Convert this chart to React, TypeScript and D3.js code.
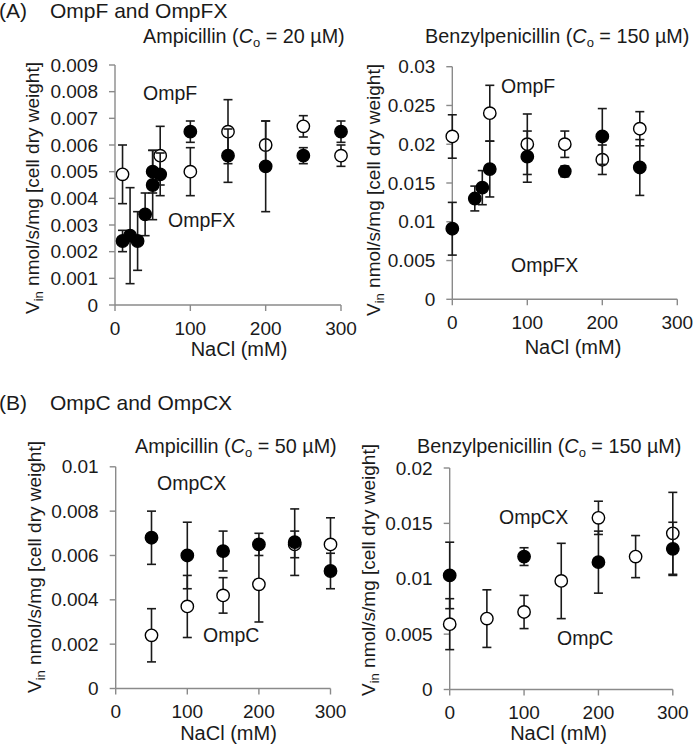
import React from "react";
import * as d3 from "d3";

// ---------- data ----------
// Panel A, Ampicillin (Co = 20 µM)
const ompfAmpX = [10, 60, 100, 150, 200, 250, 300];
const ompfAmpY = [0.0049, 0.0056, 0.005, 0.0065, 0.006, 0.0067, 0.0056];
const ompfAmpErr = [0.0011, 0.0011, 0.0009, 0.0012, 0.0009, 0.0004, 0.0004];
const ompfxAmpX = [10, 20, 30, 40, 50, 50, 60, 100, 150, 200, 250, 300];
const ompfxAmpY = [0.0024, 0.0026, 0.0024, 0.0034, 0.0045, 0.005, 0.0049, 0.0065, 0.0056, 0.0052, 0.0056, 0.0065];
const ompfxAmpErr = [0.0004, 0.0018, 0.0011, 0.0008, 0.0013, 0.0008, 0.0008, 0.0004, 0.001, 0.0017, 0.0003, 0.0004];

// Panel A, Benzylpenicillin (Co = 150 µM)
const ompfPenX = [0, 50, 100, 150, 200, 250];
const ompfPenY = [0.021, 0.024, 0.02, 0.02, 0.018, 0.022];
const ompfPenErr = [0.0028, 0.0036, 0.0039, 0.0017, 0.0019, 0.0022];
const ompfxPenX = [0, 30, 40, 50, 100, 150, 200, 250];
const ompfxPenY = [0.0091, 0.013, 0.0144, 0.0168, 0.0184, 0.0165, 0.021, 0.017];
const ompfxPenErr = [0.0034, 0.0016, 0.0022, 0.0036, 0.0033, 0.0007, 0.0036, 0.0036];

// Panel B, Ampicillin (Co = 50 µM)
const ompcAmpX = [50, 100, 150, 200, 250, 300];
const ompcAmpY = [0.0024, 0.0037, 0.0042, 0.0047, 0.0065, 0.0065];
const ompcAmpErr = [0.0012, 0.0014, 0.0008, 0.0017, 0.0006, 0.0012];
const ompcxAmpX = [50, 100, 150, 200, 250, 300];
const ompcxAmpY = [0.0068, 0.006, 0.0062, 0.0065, 0.0066, 0.0053];
const ompcxAmpErr = [0.0012, 0.0015, 0.0009, 0.0005, 0.0015, 0.0008];

// Panel B, Benzylpenicillin (Co = 150 µM)
const ompcPenX = [0, 50, 100, 150, 200, 250, 300];
const ompcPenY = [0.0059, 0.0064, 0.007, 0.0098, 0.0155, 0.012, 0.0141];
const ompcPenErr = [0.0023, 0.0026, 0.0015, 0.0034, 0.0015, 0.0019, 0.0037];
const ompcxPenX = [0, 100, 200, 300];
const ompcxPenY = [0.0103, 0.012, 0.0115, 0.0127];
const ompcxPenErr = [0.003, 0.0008, 0.0028, 0.0024];

// ticks
const xTicks = [0, 100, 200, 300];
const yTicksA1 = [0, 0.001, 0.002, 0.003, 0.004, 0.005, 0.006, 0.007, 0.008, 0.009];
const yTicksA2 = [0, 0.005, 0.01, 0.015, 0.02, 0.025, 0.03];
const yTicksB1 = [0, 0.002, 0.004, 0.006, 0.008, 0.01];
const yTicksB2 = [0, 0.005, 0.01, 0.015, 0.02];

const FONT = "'Liberation Sans', Arial, Helvetica, sans-serif";
const fmt = d3.format(".3~f");
const AXIS = "#8a8a8a";

type Series = { x: number[]; y: number[]; err: number[]; filled: boolean };

type PanelProps = {
  xr: [number, number];
  yr: [number, number]; // [pixel at 0, pixel at max]
  yMax: number;
  yTicks: number[];
  series: Series[];
  drug: string;
  conc: string;
  titleX: number;
  titleY: number;
  labels: { text: string; x: number; y: number }[];
  xLabel: { x: number; y: number };
  yLabel: { x: number; y: number };
  tickOffset: number;
};

function Panel(p: PanelProps) {
  const x = d3.scaleLinear().domain([0, 300]).range(p.xr);
  const y = d3.scaleLinear().domain([0, p.yMax]).range(p.yr);
  const y0 = y(0);
  const x0 = x(0);
  return (
    <g fontFamily={FONT} fill="#1a1a1a">
      {/* axes */}
      <line x1={x0} x2={x0} y1={y0} y2={y(p.yMax)} stroke={AXIS} strokeWidth={1.4} />
      <line x1={x0} x2={x(300)} y1={y0} y2={y0} stroke={AXIS} strokeWidth={1.4} />
      {p.yTicks.map((t) => (
        <g key={"y" + t}>
          <line x1={x0 - 6} x2={x0} y1={y(t)} y2={y(t)} stroke={AXIS} strokeWidth={1.4} />
          <text x={x0 - 17} y={y(t)} dy="0.35em" textAnchor="end" fontSize={19}>
            {fmt(t)}
          </text>
        </g>
      ))}
      {xTicks.map((t) => (
        <g key={"x" + t}>
          <line x1={x(t)} x2={x(t)} y1={y0} y2={y0 + 6} stroke={AXIS} strokeWidth={1.4} />
          <text x={x(t)} y={y0 + p.tickOffset} textAnchor="middle" fontSize={19}>
            {t}
          </text>
        </g>
      ))}
      {/* axis titles */}
      <text x={p.xLabel.x} y={p.xLabel.y} textAnchor="middle" fontSize={20}>
        NaCl (mM)
      </text>
      <text
        transform={`translate(${p.yLabel.x},${p.yLabel.y}) rotate(-90)`}
        textAnchor="middle"
        fontSize={19}
      >
        V
        <tspan fontSize={13} dy={4}>
          in
        </tspan>
        <tspan dy={-4}> nmol/s/mg [cell dry weight]</tspan>
      </text>
      {/* panel title */}
      <text x={p.titleX} y={p.titleY} fontSize={19.8}>
        {p.drug} (
        <tspan fontStyle="italic">C</tspan>
        <tspan fontSize={13} dy={4}>
          o
        </tspan>
        <tspan dy={-4}> = {p.conc} µM)</tspan>
      </text>
      {/* series */}
      {p.series.map((s, si) => (
        <g key={si}>
          {s.x.map((xv, i) => {
            const cx = x(xv);
            const top = y(s.y[i] + s.err[i]);
            const bot = y(s.y[i] - s.err[i]);
            return (
              <g key={i} stroke="#1a1a1a" strokeWidth={1.6}>
                <line x1={cx} x2={cx} y1={top} y2={bot} />
                <line x1={cx - 4.5} x2={cx + 4.5} y1={top} y2={top} />
                <line x1={cx - 4.5} x2={cx + 4.5} y1={bot} y2={bot} />
              </g>
            );
          })}
          {s.x.map((xv, i) => (
            <circle
              key={"c" + i}
              cx={x(xv)}
              cy={y(s.y[i])}
              r={6.2}
              fill={s.filled ? "#000" : "#fff"}
              stroke="#000"
              strokeWidth={1.4}
            />
          ))}
        </g>
      ))}
      {p.labels.map((l) => (
        <text key={l.text} x={l.x} y={l.y} fontSize={19.5}>
          {l.text}
        </text>
      ))}
    </g>
  );
}

export default function App() {
  return (
    <svg
      width={693}
      height={748}
      viewBox="0 0 693 748"
      style={{ position: "absolute", left: 0, top: 0, background: "#fff" }}
    >
      <rect width={693} height={748} fill="#fff" />
      <g fontFamily={FONT} fill="#1a1a1a" fontSize={21}>
        <text x={-1} y={18}>(A)</text>
        <text x={50} y={18}>OmpF and OmpFX</text>
        <text x={-1} y={410}>(B)</text>
        <text x={50} y={410}>OmpC and OmpCX</text>
      </g>
      <Panel
        xr={[115, 341]}
        yr={[305, 65]}
        yMax={0.009}
        yTicks={yTicksA1}
        series={[
          { x: ompfAmpX, y: ompfAmpY, err: ompfAmpErr, filled: false },
          { x: ompfxAmpX, y: ompfxAmpY, err: ompfxAmpErr, filled: true },
        ]}
        drug="Ampicillin"
        conc="20"
        titleX={143}
        titleY={43}
        labels={[
          { text: "OmpF", x: 143, y: 100 },
          { text: "OmpFX", x: 168, y: 227 },
        ]}
        xLabel={{ x: 239, y: 356 }}
        yLabel={{ x: 39, y: 188 }}
        tickOffset={30}
      />
      <Panel
        xr={[452.3, 677.3]}
        yr={[299.3, 66.7]}
        yMax={0.03}
        yTicks={yTicksA2}
        series={[
          { x: ompfPenX, y: ompfPenY, err: ompfPenErr, filled: false },
          { x: ompfxPenX, y: ompfxPenY, err: ompfxPenErr, filled: true },
        ]}
        drug="Benzylpenicillin"
        conc="150"
        titleX={425}
        titleY={43}
        labels={[
          { text: "OmpF", x: 501, y: 93 },
          { text: "OmpFX", x: 511, y: 272 },
        ]}
        xLabel={{ x: 573, y: 354 }}
        yLabel={{ x: 380, y: 190 }}
        tickOffset={30}
      />
      <Panel
        xr={[115.7, 330.5]}
        yr={[688.5, 466.8]}
        yMax={0.01}
        yTicks={yTicksB1}
        series={[
          { x: ompcAmpX, y: ompcAmpY, err: ompcAmpErr, filled: false },
          { x: ompcxAmpX, y: ompcxAmpY, err: ompcxAmpErr, filled: true },
        ]}
        drug="Ampicillin"
        conc="50"
        titleX={135}
        titleY={453}
        labels={[
          { text: "OmpCX", x: 157, y: 490 },
          { text: "OmpC", x: 203, y: 642 },
        ]}
        xLabel={{ x: 228.5, y: 740 }}
        yLabel={{ x: 41, y: 567 }}
        tickOffset={29}
      />
      <Panel
        xr={[449.7, 672.8]}
        yr={[689.5, 468]}
        yMax={0.02}
        yTicks={yTicksB2}
        series={[
          { x: ompcPenX, y: ompcPenY, err: ompcPenErr, filled: false },
          { x: ompcxPenX, y: ompcxPenY, err: ompcxPenErr, filled: true },
        ]}
        drug="Benzylpenicillin"
        conc="150"
        titleX={417}
        titleY={453}
        labels={[
          { text: "OmpCX", x: 499, y: 524 },
          { text: "OmpC", x: 557, y: 645 },
        ]}
        xLabel={{ x: 558.5, y: 740 }}
        yLabel={{ x: 375, y: 570 }}
        tickOffset={29}
      />
    </svg>
  );
}
